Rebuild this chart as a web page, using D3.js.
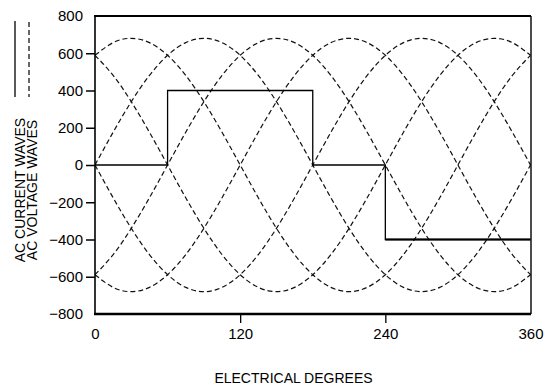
<!DOCTYPE html>
<html>
<head>
<meta charset="utf-8">
<script src="https://cdn.jsdelivr.net/npm/d3@7"></script>
<style>
  html, body { margin: 0; padding: 0; background: #fff; }
  svg { display: block; font-family: "Liberation Sans", Arial, sans-serif; }
</style>
</head>
<body>
<svg id="chart" width="544" height="387"></svg>
<script>
// ---- data ----
const degrees = d3.range(0, 361, 15); // sample angles (x)
const voltageA = [0,176,340,481,589,657,680,657,589,481,340,176,0,-176,-340,-481,-589,-657,-680,-657,-589,-481,-340,-176,0];
const voltageB = [-589,-481,-340,-176,0,176,340,481,589,657,680,657,589,481,340,176,0,-176,-340,-481,-589,-657,-680,-657,-589];
const voltageC = [-589,-657,-680,-657,-589,-481,-340,-176,0,176,340,481,589,657,680,657,589,481,340,176,0,-176,-340,-481,-589];
const voltageD = [0,-176,-340,-481,-589,-657,-680,-657,-589,-481,-340,-176,0,176,340,481,589,657,680,657,589,481,340,176,0];
const voltageE = [589,481,340,176,0,-176,-340,-481,-589,-657,-680,-657,-589,-481,-340,-176,0,176,340,481,589,657,680,657,589];
const voltageF = [589,657,680,657,589,481,340,176,0,-176,-340,-481,-589,-657,-680,-657,-589,-481,-340,-176,0,176,340,481,589];
const voltageWaves = [voltageA, voltageB, voltageC, voltageD, voltageE, voltageF];

const currentX = [0, 60, 60, 180, 180, 240, 240, 360];
const currentY = [0, 0, 400, 400, 0, 0, -400, -400];

const xTicks = [0, 120, 240, 360];
const yTicks = [-800, -600, -400, -200, 0, 200, 400, 600, 800];
const xTitle = "ELECTRICAL DEGREES";
const legendLabels = ["AC CURRENT WAVES", "AC VOLTAGE WAVES"];

// ---- layout ----
const svg = d3.select("#chart");
const L = 95, R = 531, T = 16, B = 314;
const x = d3.scaleLinear().domain([0, 360]).range([L, 530.5]);
const y = d3.scaleLinear().domain([-800, 800]).range([B, T]);

svg.append("defs").append("clipPath").attr("id", "clip")
  .append("rect").attr("x", L).attr("y", T).attr("width", R - L).attr("height", B - T);

// voltage waves (dashed)
const vLine = d3.line()
  .x((d, i) => x(degrees[i]))
  .y(d => y(d))
  .curve(d3.curveNatural);

svg.append("g").attr("clip-path", "url(#clip)")
  .selectAll("path.v").data(voltageWaves).join("path")
  .attr("class", "v")
  .attr("d", vLine)
  .attr("fill", "none")
  .attr("stroke", "#111")
  .attr("stroke-width", 1.2)
  .attr("stroke-dasharray", "5,3");

// current wave (solid)
const cLine = d3.line()
  .x((d, i) => x(currentX[i]))
  .y(d => y(d));
svg.append("path")
  .datum(currentY)
  .attr("d", cLine)
  .attr("fill", "none")
  .attr("stroke", "#000")
  .attr("stroke-width", 1.3);
// last (negative) step drawn heavier, as in the reference
const lastIdx = currentY.length - 2;
svg.append("line")
  .attr("x1", x(currentX[lastIdx])).attr("x2", x(currentX[lastIdx + 1]))
  .attr("y1", y(currentY[lastIdx])).attr("y2", y(currentY[lastIdx + 1]))
  .attr("stroke", "#000").attr("stroke-width", 2.2);

// frame
const frame = svg.append("g").attr("stroke", "#000").attr("fill", "none");
frame.append("line").attr("x1", L - 1).attr("x2", R).attr("y1", T).attr("y2", T).attr("stroke-width", 2);
frame.append("line").attr("x1", L - 1).attr("x2", R).attr("y1", B).attr("y2", B).attr("stroke-width", 2.4);
frame.append("line").attr("x1", L).attr("x2", L).attr("y1", T).attr("y2", B).attr("stroke-width", 1.6);
frame.append("line").attr("x1", R).attr("x2", R).attr("y1", T).attr("y2", B).attr("stroke-width", 1.4);

// axes
const yAxis = svg.append("g")
  .attr("transform", `translate(${L},0)`)
  .call(d3.axisLeft(y).tickValues(yTicks).tickSize(9).tickPadding(3));
yAxis.select(".domain").remove();
yAxis.selectAll(".tick").filter(d => d === 800 || d === -800).select("line").remove();
yAxis.selectAll(".tick line").attr("stroke-width", 1.5);
yAxis.selectAll("text").attr("font-size", 15).attr("fill", "#000")
  .attr("font-family", "'Liberation Sans', Arial, sans-serif");

const xAxis = svg.append("g")
  .attr("transform", `translate(0,${B})`)
  .call(d3.axisBottom(x).tickValues(xTicks).tickFormat(d3.format("d")).tickSize(9).tickPadding(5));
xAxis.select(".domain").remove();
xAxis.selectAll(".tick").filter(d => d === 0 || d === 360).select("line").remove();
xAxis.selectAll(".tick line").attr("stroke-width", 1.3);
xAxis.selectAll("text").attr("font-size", 15).attr("fill", "#000")
  .attr("font-family", "'Liberation Sans', Arial, sans-serif");

// x title
svg.append("text")
  .attr("x", (212 + 375) / 2).attr("y", 383)
  .attr("text-anchor", "middle")
  .attr("font-size", 14)
  .text(xTitle);

// legend (rotated)
const legX = [25, 37];
legendLabels.forEach((lab, i) => {
  svg.append("text")
    .attr("transform", `translate(${legX[i]},190) rotate(-90)`)
    .attr("text-anchor", "middle")
    .attr("font-size", 14)
    .text(lab);
});
svg.append("line").attr("x1", 15).attr("x2", 15).attr("y1", 21).attr("y2", 97)
  .attr("stroke", "#000").attr("stroke-width", 1.3);
svg.append("line").attr("x1", 29).attr("x2", 29).attr("y1", 22).attr("y2", 97)
  .attr("stroke", "#000").attr("stroke-width", 1.2).attr("stroke-dasharray", "5,3");
</script>
</body>
</html>
